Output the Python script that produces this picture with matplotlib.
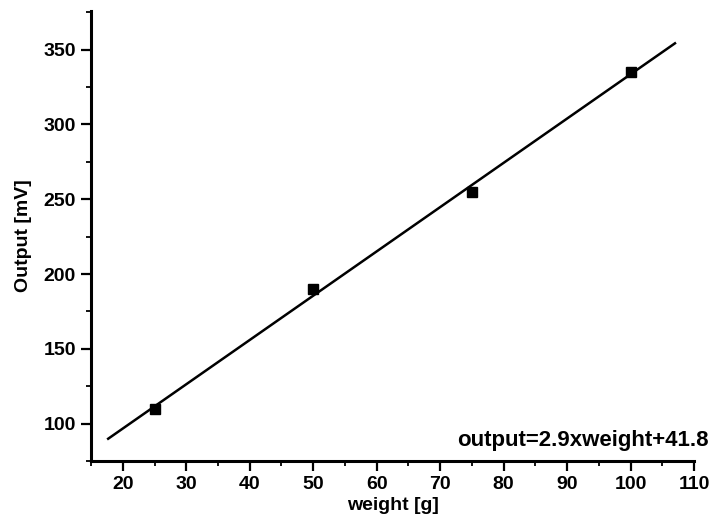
import numpy as np
import matplotlib.pyplot as plt
from matplotlib.ticker import MultipleLocator

# measured points
weight = [25, 50, 75, 100]
output = [110, 190, 255, 335]
# range of the fitted line
fit_range = [17.7, 107]

plt.rcParams['font.family'] = ['Liberation Sans', 'DejaVu Sans']
plt.rcParams['font.weight'] = 'bold'

fig = plt.figure(figsize=(7.14, 5.31), dpi=100)
ax = fig.add_axes([0.1275, 0.1318, 0.8445, 0.848])

slope, intercept = np.polyfit(weight, output, 1)
xf = np.array(fit_range)
ax.plot(xf, slope * xf + intercept, color='black', lw=1.8)
ax.plot(weight, output, 's', color='black', ms=7)

ax.set_xlim(15, 110)
ax.set_ylim(75, 376)
ax.xaxis.set_minor_locator(MultipleLocator(5))
ax.yaxis.set_minor_locator(MultipleLocator(25))
ax.set_xticks(np.arange(20, 111, 10))
ax.set_yticks(np.arange(100, 351, 50))

for s in ['top', 'right']:
    ax.spines[s].set_visible(False)
for s in ['left', 'bottom']:
    ax.spines[s].set_linewidth(2.2)

ax.tick_params(which='major', direction='out', length=7, width=1.6,
               labelsize=14, pad=4)
ax.tick_params(which='minor', direction='out', length=3.5, width=1.3)

ax.set_xlabel('weight [g]', fontsize=14, fontweight='bold', labelpad=3)
ax.set_ylabel('Output [mV]', fontsize=14, fontweight='bold', labelpad=8)

fig.text(0.992, 0.171, 'output=2.9xweight+41.8', ha='right', va='center',
         fontsize=16, fontweight='bold')

plt.savefig('out.png', dpi=100)
